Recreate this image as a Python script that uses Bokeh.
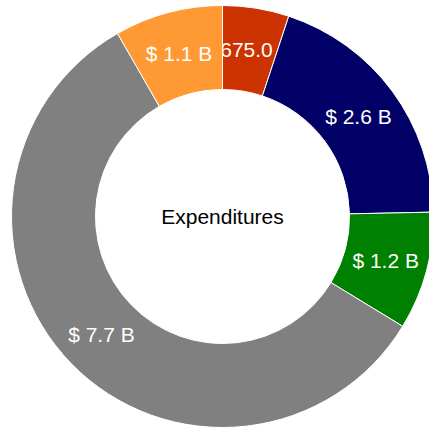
import math
from bokeh.plotting import figure
from bokeh.models import Range1d
from bokeh.core.properties import value
from bokeh.embed import file_html
from bokeh.resources import INLINE

labels = ["$ 675.0 M", "$ 2.6 B", "$ 1.2 B", "$ 7.7 B", "$ 1.1 B"]
amounts = [0.675, 2.6, 1.2, 7.7, 1.1]
colors = ["#CC3300", "#000066", "#008000", "#808080", "#FF9933"]
title_text = "Expenditures"

W = H = 429
cx, cy = 222, 213
r_out, r_in = 211, 127
r_lab = (r_out + r_in) / 2

p = figure(width=W, height=H, output_backend="svg", toolbar_location=None,
           x_range=Range1d(0, W), y_range=Range1d(0, H), min_border=0)
p.axis.visible = False
p.grid.visible = False
p.outline_line_color = None
p.background_fill_color = "white"
p.border_fill_color = "white"

total = sum(amounts)
cum = 0.0
for lab, amt, col in zip(labels, amounts, colors):
    c0 = cum / total
    cum += amt
    c1 = cum / total
    start = math.pi / 2 - 2 * math.pi * c1
    end = math.pi / 2 - 2 * math.pi * c0
    p.annular_wedge(x=[cx], y=[cy], inner_radius=r_in, outer_radius=r_out,
                    start_angle=[start], end_angle=[end], fill_color=col,
                    line_color="white", line_width=1)
    mid = (start + end) / 2
    p.text(x=[cx + r_lab * math.cos(mid)], y=[cy + r_lab * math.sin(mid)], text=[lab],
           text_color="white", text_font=value("Liberation Sans"), text_font_size="21px",
           text_align="center", text_baseline="middle")

p.text(x=[cx], y=[cy], text=[title_text], text_color="black",
       text_font=value("Liberation Sans"), text_font_size="21px",
       text_align="center", text_baseline="middle")

open("out.html", "w").write(file_html(p, INLINE))
